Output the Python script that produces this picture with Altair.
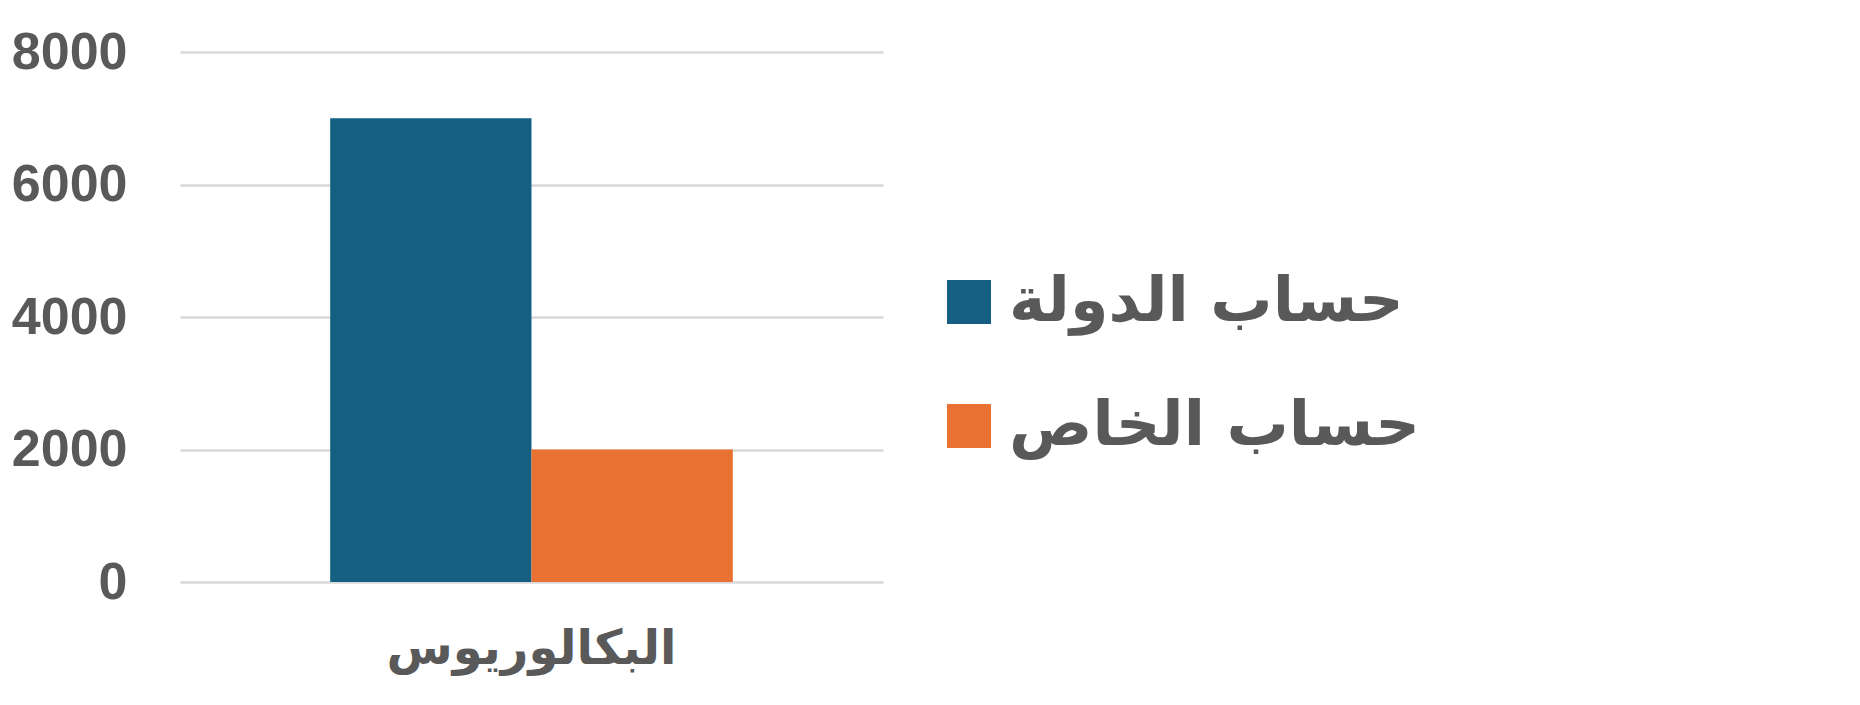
import altair as alt
import pandas as pd

categories = ["البكالوريوس"]
series = ["حساب الدولة", "حساب الخاص"]
values = [7000, 2000]
colors = ["#156082", "#E97132"]
y_ticks = [0, 2000, 4000, 6000, 8000]

df = pd.DataFrame({
    "cat": [categories[0]] * len(series),
    "series": series,
    "value": values,
})

chart = alt.Chart(df).mark_bar().encode(
    x=alt.X("cat:N", title=None,
            scale=alt.Scale(paddingInner=0, paddingOuter=0.373),
            axis=alt.Axis(labelAngle=0, domain=False, ticks=False,
                          labelFont="DejaVu Sans", labelFontWeight="bold",
                          labelFontSize=48, labelColor="#595959",
                          labelPadding=43, labelLimit=800)),
    xOffset=alt.XOffset("series:N", sort=series),
    y=alt.Y("value:Q", title=None,
            scale=alt.Scale(domain=[0, 8000], nice=False),
            axis=alt.Axis(values=y_ticks, format="d", domain=False, ticks=False,
                          labelFont="Liberation Sans", labelFontWeight="bold",
                          labelFontSize=52, labelColor="#595959",
                          labelPadding=53, gridColor="#D9D9D9",
                          gridWidth=2.5)),
    color=alt.Color("series:N", sort=series,
                    scale=alt.Scale(domain=series, range=colors),
                    legend=alt.Legend(title=None, orient="none",
                                      legendX=758, legendY=219,
                                      padding=0, symbolType="square",
                                      symbolSize=1936, symbolStrokeWidth=0,
                                      labelFont="DejaVu Sans",
                                      labelFontWeight="bold",
                                      labelFontSize=62,
                                      labelColor="#595959",
                                      labelOffset=9, rowPadding=62,
                                      labelLimit=800)),
).properties(
    width=703,
    height=530,
    autosize=alt.AutoSizeParams(type="none"),
    padding={"left": 172, "top": 44, "right": 960, "bottom": 115},
).configure_view(stroke=None)

chart.save("out.html", embed_options={"renderer": "svg", "actions": False})
